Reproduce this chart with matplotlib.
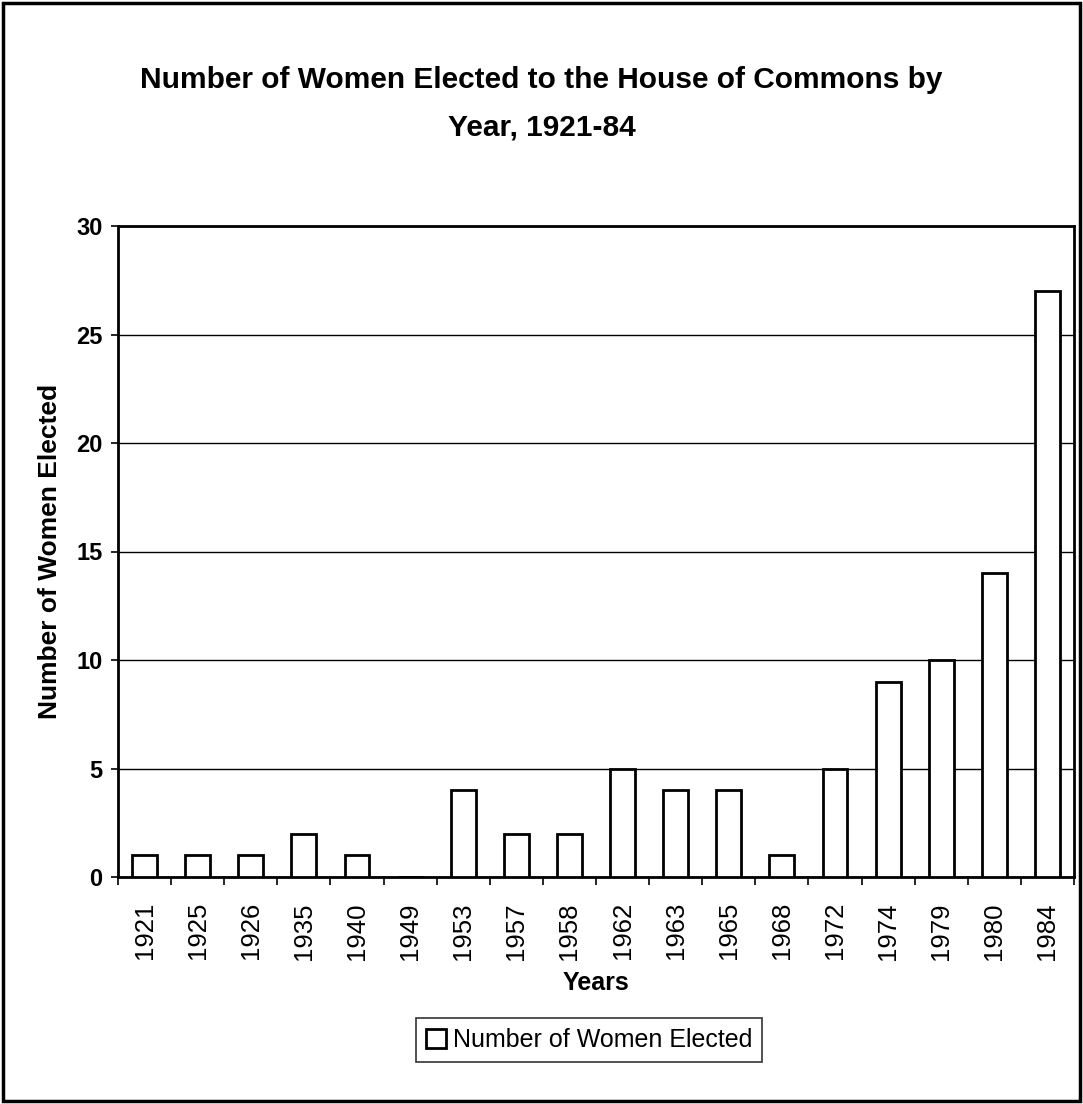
import matplotlib.pyplot as plt
import numpy as np
from matplotlib.patches import Rectangle

years = ['1921', '1925', '1926', '1935', '1940', '1949', '1953', '1957', '1958',
         '1962', '1963', '1965', '1968', '1972', '1974', '1979', '1980', '1984']
women = [1, 1, 1, 2, 1, 0, 4, 2, 2, 5, 4, 4, 1, 5, 9, 10, 14, 27]

arial = ['Liberation Sans', 'DejaVu Sans']

fig = plt.figure(figsize=(10.83, 11.04), dpi=100)
ax = fig.add_axes([118 / 1083, 1 - 877 / 1104, (1074 - 118) / 1083, (877 - 226) / 1104])

x = np.arange(len(years))
ax.bar(x, women, width=0.47, color='white', edgecolor='black', linewidth=2,
       label='Number of Women Elected', zorder=3)

ax.set_ylim(0, 30)
ax.set_xlim(-0.5, len(years) - 0.5)
ax.set_yticks(range(0, 31, 5))
ax.set_yticklabels([str(v) for v in range(0, 31, 5)], family=arial,
                   fontweight='bold', fontsize=17)
ax.yaxis.grid(True, color='black', linewidth=1, zorder=0)

ax.set_xticks(x)
ax.set_xticklabels(years, rotation=90, family=arial, fontsize=18.5)
ax.tick_params(axis='x', which='major', length=0, pad=18)
ax.set_xticks(np.arange(-0.5, len(years), 1), minor=True)
ax.tick_params(axis='x', which='minor', length=6, width=1.2, direction='out')
ax.tick_params(axis='y', length=5, width=1.2, direction='out', pad=6)

for side in ['top', 'right', 'left', 'bottom']:
    ax.spines[side].set_linewidth(2)
    ax.spines[side].set_color('black')

ax.set_ylabel('Number of Women Elected', family=arial, fontweight='bold',
              fontsize=19, labelpad=10)
ax.set_xlabel('Years', family=arial, fontweight='bold', fontsize=18, labelpad=8)

fig.text(0.5, 1 - 80 / 1104, 'Number of Women Elected to the House of Commons by',
         ha='center', va='center', family=arial, fontweight='bold', fontsize=21.5)
fig.text(0.5, 1 - 128 / 1104, 'Year, 1921-84',
         ha='center', va='center', family=arial, fontweight='bold', fontsize=21.5)

leg = fig.legend(loc='center', bbox_to_anchor=(589 / 1083, 1 - 1040 / 1104),
                 prop={'family': arial, 'size': 18}, frameon=True, fancybox=False,
                 handlelength=0.8, handleheight=0.8, handletextpad=0.3,
                 borderpad=0.4)
leg.get_frame().set_edgecolor('black')
leg.get_frame().set_linewidth(1.2)

fig.patches.append(Rectangle((3 / 1083, 3 / 1104), 1 - 6 / 1083, 1 - 6 / 1104,
                             transform=fig.transFigure, fill=False,
                             edgecolor='black', linewidth=2.5))

fig.savefig('out.png', dpi=100)
